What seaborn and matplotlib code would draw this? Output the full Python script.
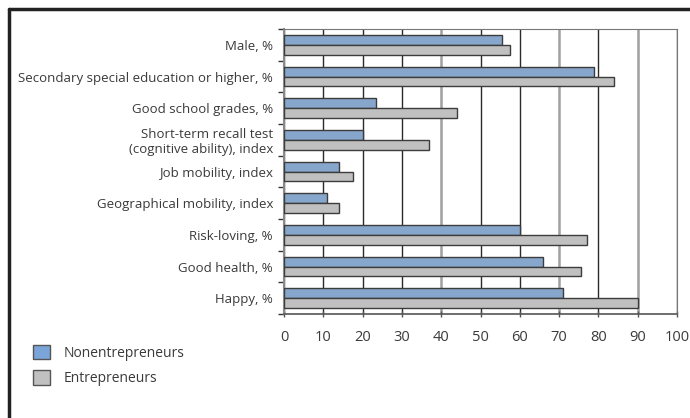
import matplotlib
matplotlib.use("Agg")
import matplotlib.pyplot as plt
from matplotlib.patches import Patch
from matplotlib.lines import Line2D
import numpy as np
import pandas as pd
import seaborn as sns

# Данные
categories = [
    "Male, %",
    "Secondary special education or higher, %",
    "Good school grades, %",
    "Short-term recall test\n(cognitive ability), index",
    "Job mobility, index",
    "Geographical mobility, index",
    "Risk-loving, %",
    "Good health, %",
    "Happy, %",
]
nonentrepreneurs = [55.5, 79, 23.5, 20, 14, 11, 60, 66, 71]
entrepreneurs = [57.5, 84, 44, 37, 17.5, 14, 77, 75.5, 90]
series_names = ["Nonentrepreneurs", "Entrepreneurs"]
x_ticks = [0, 10, 20, 30, 40, 50, 60, 70, 80, 90, 100]

df = pd.DataFrame({
    "category": categories * 2,
    "value": nonentrepreneurs + entrepreneurs,
    "group": [series_names[0]] * len(categories) + [series_names[1]] * len(categories),
})

sns.set_style("white")
plt.rcParams["font.family"] = ["Open Sans", "DejaVu Sans"]

colors = {"Nonentrepreneurs": "#7BA5D8", "Entrepreneurs": "#C0C0C0"}

fig = plt.figure(figsize=(6.9, 4.18), dpi=100)
ax = fig.add_axes([284 / 690, 0.2488, 393 / 690, 0.6818])

sns.barplot(data=df, y="category", x="value", hue="group", orient="h",
            palette=colors, width=0.62, edgecolor="#3c3c3c", linewidth=1,
            legend=False, ax=ax, zorder=3)

ax.set_xlim(0, 100)
ax.set_ylim(len(categories) - 0.5, -0.5)
ax.set_xticks(x_ticks)
ax.set_xticklabels([str(t) for t in x_ticks], fontsize=10.5, color="#3a3a3a")
ax.set_xlabel("")
ax.set_ylabel("")
ax.tick_params(axis="y", which="major", length=0, labelsize=9.5, labelcolor="#3a3a3a", pad=8)
ax.set_yticks(np.arange(-0.5, len(categories), 1), minor=True)
ax.tick_params(axis="y", which="minor", left=True, length=4, width=1, direction="out", color="#333333")
ax.tick_params(axis="x", bottom=True, length=5, width=1, direction="inout", color="#555555", pad=9)

# Сетка
ax.xaxis.grid(True, color="#2a2a2a", linewidth=1, zorder=0)
for i, gl in enumerate(ax.get_xgridlines()):
    if x_ticks[i] in (40, 70, 90):
        gl.set_color("#a0a0a0")
        gl.set_linewidth(1.8)
ax.set_axisbelow(True)

for side in ["top", "right"]:
    ax.spines[side].set_color("#777777")
    ax.spines[side].set_linewidth(0.8)
ax.spines["left"].set_color("#8a8a8a")
ax.spines["left"].set_linewidth(1.5)
ax.spines["bottom"].set_color("#555555")
ax.spines["bottom"].set_linewidth(1.2)

# Легенда
handles = [Patch(facecolor=colors[n], edgecolor="#555555", label=n) for n in series_names]
fig.legend(handles=handles, loc="upper left", bbox_to_anchor=(0.03, 0.205),
           frameon=False, fontsize=10, handlelength=1.2, handleheight=1.2,
           handletextpad=1.0, labelspacing=0.7, labelcolor="#3a3a3a")

# Рамка сверху и слева
fig.add_artist(Line2D([9 / 690, 1], [1 - 9 / 418, 1 - 9 / 418], color="#222222", linewidth=2.5))
fig.add_artist(Line2D([9 / 690, 9 / 690], [0, 1 - 9 / 418], color="#222222", linewidth=2.5))

fig.savefig("out.png", dpi=100)
